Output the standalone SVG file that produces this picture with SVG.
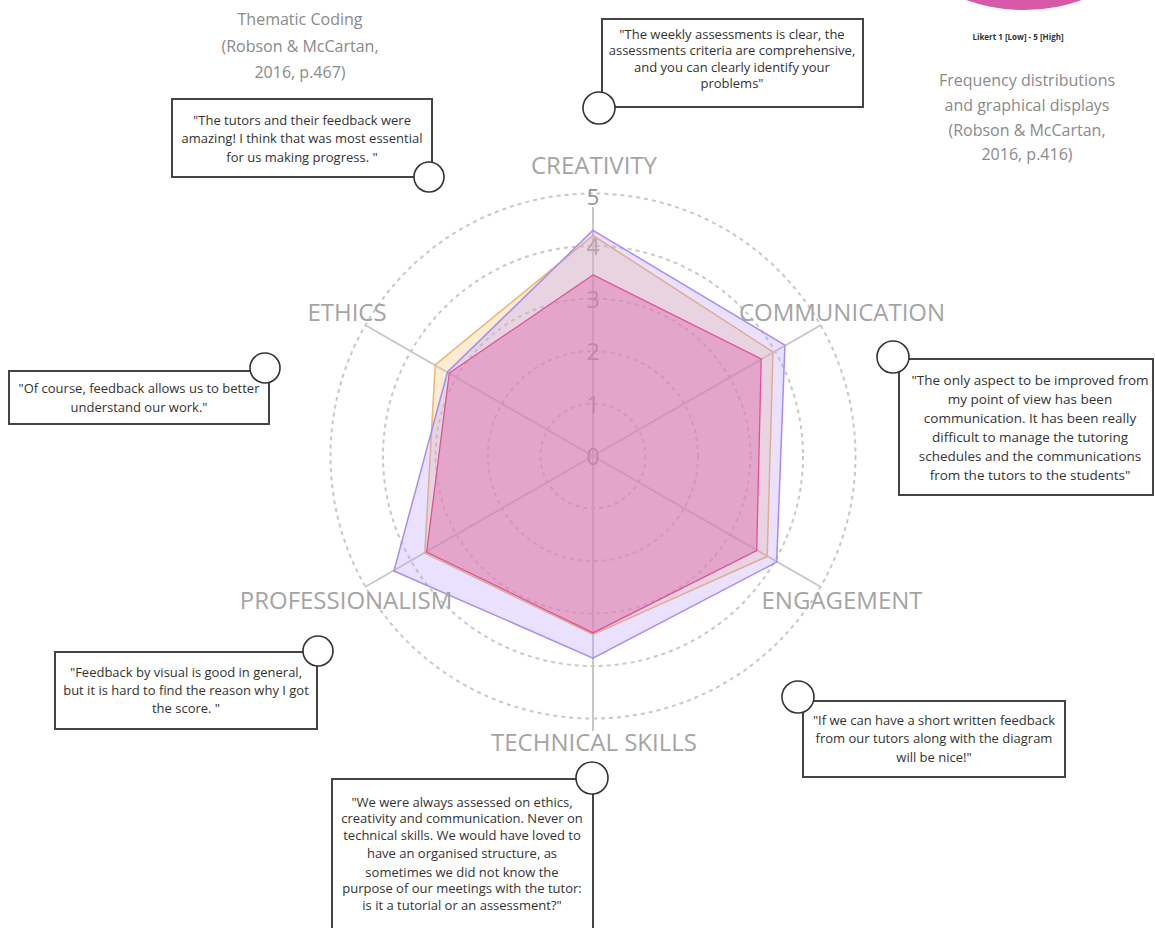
<svg xmlns="http://www.w3.org/2000/svg" width="1155" height="928" viewBox="0 0 1155 928">
<style>
.title{font-family:"Open Sans","Liberation Sans",sans-serif;font-size:16px;fill:#8a8a8a;text-anchor:middle}
.axis-label{font-family:"Open Sans","Liberation Sans",sans-serif;font-size:24px;fill:#a4a4a4;text-anchor:middle}
.scale{font-family:"Open Sans","Liberation Sans",sans-serif;font-size:23px;fill:#939393;text-anchor:middle;dominant-baseline:central}
.quote{font-family:"Open Sans","Liberation Sans",sans-serif;font-size:13px;fill:#333;text-anchor:middle}
.box{fill:#fff;stroke:#444;stroke-width:2}
.knob{fill:#fff;stroke:#333;stroke-width:1.6}
.ring{fill:none;stroke:#c8c8c8;stroke-width:2;stroke-dasharray:4 4}
.axis{stroke:#c8c8c8;stroke-width:2}
</style>
<rect width="1155" height="928" fill="#fff"/>
<circle id="legend-blob" cx="1024" cy="-163" r="173" fill="#d65aa8"/>
<text x="1018" y="40" font-family="'Open Sans','Liberation Sans',sans-serif" font-size="8" font-weight="bold" fill="#333" text-anchor="middle">Likert 1 [Low] - 5 [High]</text>
<g id="title-frequency">
<text class="title" x="1027" y="86">Frequency distributions</text>
<text class="title" x="1027" y="111">and graphical displays</text>
<text class="title" x="1027" y="136">(Robson &amp; McCartan,</text>
<text class="title" x="1027" y="160">2016, p.416)</text>
</g>
<g id="title-thematic">
<text class="title" x="300" y="25">Thematic Coding</text>
<text class="title" x="300" y="52">(Robson &amp; McCartan,</text>
<text class="title" x="300" y="78">2016, p.467)</text>
</g>
<g id="radar">
<circle class="ring" cx="593" cy="456" r="52.5"/>
<circle class="ring" cx="593" cy="456" r="105"/>
<circle class="ring" cx="593" cy="456" r="157.5"/>
<circle class="ring" cx="593" cy="456" r="210"/>
<circle class="ring" cx="593" cy="456" r="262.5"/>
<line class="axis" x1="593" y1="456" x2="593" y2="207"/>
<line class="axis" x1="593" y1="456" x2="821" y2="325"/>
<line class="axis" x1="593" y1="456" x2="821" y2="587"/>
<line class="axis" x1="593" y1="456" x2="593" y2="731"/>
<line class="axis" x1="593" y1="456" x2="365" y2="587"/>
<line class="axis" x1="593" y1="456" x2="365" y2="325"/>
<text class="scale" x="593" y="456">0</text>
<text class="scale" x="593" y="403.5">1</text>
<text class="scale" x="593" y="351">2</text>
<text class="scale" x="593" y="298.5">3</text>
<text class="scale" x="593" y="246">4</text>
<text class="scale" x="593" y="196" style="font-size:22px">5</text>
<polygon points="593,235.5 773,352 767.2,556.5 593,634.5 424.8,553.1 435.2,364.9" fill="#f7c88a" fill-opacity="0.35" stroke="#f2b468" stroke-width="1.5"/>
<polygon points="593,230.3 784.9,345.2 776.7,562.1 593,658.1 393.9,571 447.5,372" fill="#b69cf7" fill-opacity="0.3" stroke="#a88cf2" stroke-width="1.5"/>
<polygon points="593,274.9 761.2,358.9 756.7,550.5 593,632.9 426.6,552.1 449.3,373" fill="#dc4fa0" fill-opacity="0.35" stroke="#e0509a" stroke-width="1.3"/>
<text class="axis-label" x="594" y="174">CREATIVITY</text>
<text class="axis-label" x="842" y="321">COMMUNICATION</text>
<text class="axis-label" x="842" y="609">ENGAGEMENT</text>
<text class="axis-label" x="594" y="751">TECHNICAL SKILLS</text>
<text class="axis-label" x="346" y="609">PROFESSIONALISM</text>
<text class="axis-label" x="347" y="321">ETHICS</text>
</g>
<g id="quote-tutors">
<rect class="box" x="172" y="99" width="260" height="78"/>
<text class="quote" x="302" y="125">"The tutors and their feedback were</text>
<text class="quote" x="302" y="143">amazing! I think that was most essential</text>
<text class="quote" x="302" y="162">for us making progress. "</text>
</g>
<g id="quote-weekly">
<rect class="box" x="602" y="19" width="261" height="88"/>
<text class="quote" x="732" y="39">"The weekly assessments is clear, the</text>
<text class="quote" x="732" y="55">assessments criteria are comprehensive,</text>
<text class="quote" x="732" y="72">and you can clearly identify your</text>
<text class="quote" x="732" y="88">problems"</text>
</g>
<g id="quote-communication">
<rect class="box" x="899" y="359" width="254" height="136"/>
<text class="quote" x="1030" y="385" style="font-size:13.5px">"The only aspect to be improved from</text>
<text class="quote" x="1030" y="404" style="font-size:13.5px">my point of view has been</text>
<text class="quote" x="1030" y="423" style="font-size:13.5px">communication. It has been really</text>
<text class="quote" x="1030" y="442" style="font-size:13.5px">difficult to manage the tutoring</text>
<text class="quote" x="1030" y="461" style="font-size:13.5px">schedules and the communications</text>
<text class="quote" x="1030" y="480" style="font-size:13.5px">from the tutors to the students"</text>
</g>
<g id="quote-ethics">
<rect class="box" x="9" y="371" width="260" height="53"/>
<text class="quote" x="139" y="393">"Of course, feedback allows us to better</text>
<text class="quote" x="139" y="412">understand our work."</text>
</g>
<g id="quote-visual">
<rect class="box" x="55" y="652" width="262" height="77"/>
<text class="quote" x="186" y="677">"Feedback by visual is good in general,</text>
<text class="quote" x="186" y="695">but it is hard to find the reason why I got</text>
<text class="quote" x="186" y="713">the score. "</text>
</g>
<g id="quote-written">
<rect class="box" x="803" y="701" width="262" height="76"/>
<text class="quote" x="934" y="725">"If we can have a short written feedback</text>
<text class="quote" x="934" y="743">from our tutors along with the diagram</text>
<text class="quote" x="934" y="762">will be nice!"</text>
</g>
<g id="quote-structure">
<rect class="box" x="332" y="779" width="261" height="160"/>
<text class="quote" x="462" y="807">"We were always assessed on ethics,</text>
<text class="quote" x="462" y="823">creativity and communication. Never on</text>
<text class="quote" x="462" y="840">technical skills. We would have loved to</text>
<text class="quote" x="462" y="858">have an organised structure, as</text>
<text class="quote" x="462" y="877">sometimes we did not know the</text>
<text class="quote" x="462" y="893">purpose of our meetings with the tutor:</text>
<text class="quote" x="462" y="910">is it a tutorial or an assessment?"</text>
</g>
<g id="connectors">
<circle class="knob" cx="429" cy="177" r="15"/>
<circle class="knob" cx="599" cy="108" r="16"/>
<circle class="knob" cx="893" cy="357" r="16"/>
<circle class="knob" cx="265" cy="368" r="15"/>
<circle class="knob" cx="318" cy="651" r="15"/>
<circle class="knob" cx="798" cy="697" r="16"/>
<circle class="knob" cx="592" cy="778" r="16"/>
</g>
</svg>
